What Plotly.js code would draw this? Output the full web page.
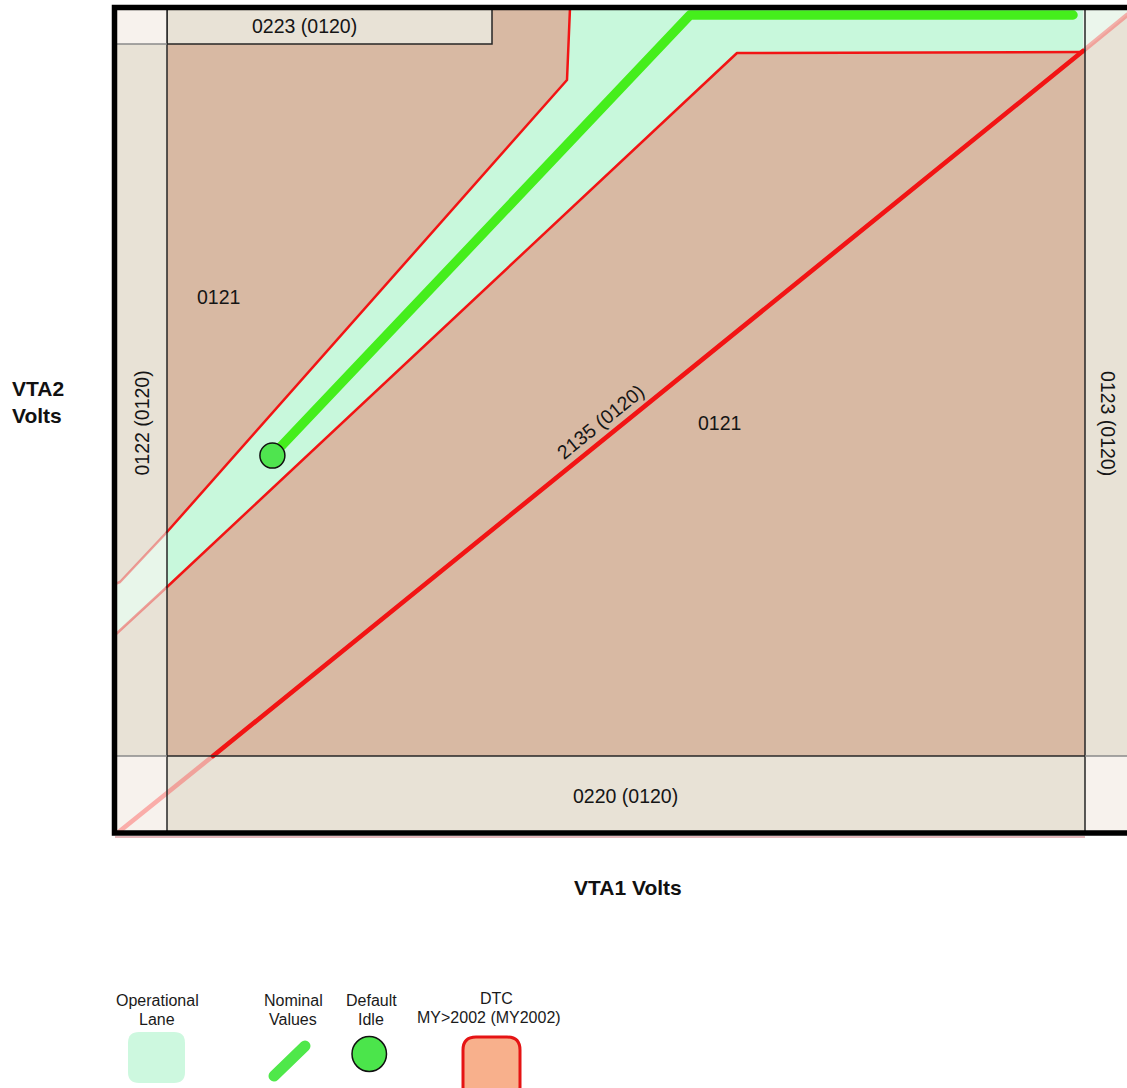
<!DOCTYPE html>
<html><head><meta charset="utf-8">
<script src="https://cdn.plot.ly/plotly-3.0.1.min.js"></script>
<style>html,body{margin:0;padding:0;background:#fff;overflow:hidden}</style>
</head><body><div id="chart" style="width:1127px;height:1088px"></div>
<script>
// ---------------- data (volts) ----------------
const axisRangeX = [0, 5.06];
const axisRangeY = [0, 4.125];
const stripLeftX = 0.26;      // 0122 region boundary
const stripRightX = 4.85;     // 0123 region boundary
const stripBottomY = 0.385;   // 0220 region boundary
const stripTopY = 3.945;      // 0223 region boundary
const topStripEndX = 1.885;   // end of 0223 region

const laneUpperX = [0.00, 0.025, 0.26, 2.26, 2.275];
const laneUpperY = [1.245, 1.255, 1.505, 3.765, 4.125];
const laneLowerX = [0.00, 0.26, 3.11, 4.84];
const laneLowerY = [0.99, 1.23, 3.90, 3.905];
const dtc2135X = [0.00, 0.49, 4.84, 5.06];
const dtc2135Y = [-0.01, 0.385, 3.91, 4.09];
const nominalX = [0.787, 2.875, 4.79];
const nominalY = [1.887, 4.09, 4.09];
const idleX = [0.787];
const idleY = [1.887];

const regionLabels = ['0223 (0120)', '0121', '0121', '2135 (0120)', '0122 (0120)', '0123 (0120)', '0220 (0120)'];
const regionLabelX = [0.945, 0.515, 3.02, 2.425, 0.1325, 4.965, 2.55];
const regionLabelY = [4.035, 2.68, 2.05, 2.055, 2.05, 2.05, 0.185];

const xTitle = 'VTA1 Volts';
const yTitle = ['VTA2', 'Volts'];
const legendTitles = [['Operational', 'Lane'], ['Nominal', 'Values'], ['Default', 'Idle'], ['DTC', 'MY>2002 (MY2002)']];

// ---------------- helpers ----------------
const W = 1127, H = 1088;
const PX = v => v / W;
const PY = v => 1 - v / H;
const FONT = 'Liberation Sans, Arial, Helvetica, sans-serif';
const ymax = axisRangeY[1], xmax = axisRangeX[1];

function roundRectPath(x0, y0, x1, y1, r) {
  const p = (x, y) => PX(x) + ',' + PY(y);
  return 'M' + p(x0 + r, y0) + ' L' + p(x1 - r, y0) + ' Q' + p(x1, y0) + ' ' + p(x1, y0 + r) +
    ' L' + p(x1, y1 - r) + ' Q' + p(x1, y1) + ' ' + p(x1 - r, y1) +
    ' L' + p(x0 + r, y1) + ' Q' + p(x0, y1) + ' ' + p(x0, y1 - r) +
    ' L' + p(x0, y0 + r) + ' Q' + p(x0, y0) + ' ' + p(x0 + r, y0) + ' Z';
}

const fillTrace = (x, y, color) => ({x, y, type: 'scatter', mode: 'lines', fill: 'toself', fillcolor: color,
  line: {width: 0, color: color}, hoverinfo: 'skip', showlegend: false});
const lineTrace = (x, y, color, width) => ({x, y, type: 'scatter', mode: 'lines',
  line: {width: width, color: color}, hoverinfo: 'skip', showlegend: false});

// lane polygons
const laneMainX = laneUpperX.slice(2).concat([stripRightX, stripRightX], laneLowerX.slice(1).reverse());
const laneMainY = laneUpperY.slice(2).concat([ymax, laneLowerY[laneLowerY.length - 1]], laneLowerY.slice(1).reverse());
const laneLeftX = laneUpperX.slice(0, 3).concat(laneLowerX.slice(0, 2).reverse());
const laneLeftY = laneUpperY.slice(0, 3).concat(laneLowerY.slice(0, 2).reverse());
const laneRightX = dtc2135X.slice(2).concat([xmax, dtc2135X[2]]);
const laneRightY = dtc2135Y.slice(2).concat([ymax, ymax]);

const PINK = 'rgba(255,50,50,0.36)';
const RED = '#f21414';

const traces = [
  fillTrace(laneMainX, laneMainY, '#c8f8dc'),
  fillTrace(laneLeftX, laneLeftY, '#e8f6ea'),
  fillTrace(laneRightX, laneRightY, '#ebf6ec'),
  lineTrace(dtc2135X, dtc2135Y, PINK, 4.5),
  lineTrace(laneUpperX.slice(0, 3), laneUpperY.slice(0, 3), 'rgba(240,50,50,0.45)', 2.5),
  lineTrace(laneLowerX.slice(0, 2), laneLowerY.slice(0, 2), 'rgba(240,50,50,0.45)', 2.5),
  lineTrace(laneUpperX.slice(2), laneUpperY.slice(2), RED, 2.5),
  lineTrace(laneLowerX.slice(1), laneLowerY.slice(1), RED, 2.5),
  lineTrace(dtc2135X.slice(1, 3), dtc2135Y.slice(1, 3), RED, 4.5),
  lineTrace(nominalX, nominalY, '#45ee1c', 9.5),
  {x: idleX, y: idleY, type: 'scatter', mode: 'markers', hoverinfo: 'skip', showlegend: false,
   marker: {size: 25, color: '#4fe44f', line: {color: '#111', width: 1.5}}}
];

const GRID = '#262626';
const shapes = [
  {type: 'rect', xref: 'x', yref: 'y', x0: stripLeftX, x1: stripRightX, y0: stripBottomY, y1: ymax,
   fillcolor: '#d8b9a3', line: {width: 0}, layer: 'below'},
  {type: 'rect', xref: 'x', yref: 'y', x0: stripLeftX, x1: topStripEndX, y0: stripTopY, y1: ymax + 0.05,
   fillcolor: '#e8e2d6', line: {width: 1.5, color: GRID}, layer: 'below'},
  {type: 'rect', xref: 'x', yref: 'y', x0: 0, x1: stripLeftX, y0: stripTopY, y1: ymax,
   fillcolor: '#f7f2ed', line: {width: 0}, layer: 'below'},
  {type: 'rect', xref: 'x', yref: 'y', x0: 0, x1: stripLeftX, y0: 0, y1: stripBottomY,
   fillcolor: '#f7f2ed', line: {width: 0}, layer: 'below'},
  {type: 'rect', xref: 'x', yref: 'y', x0: stripRightX, x1: xmax, y0: 0, y1: stripBottomY,
   fillcolor: '#f7f2ed', line: {width: 0}, layer: 'below'},
  {type: 'line', xref: 'x', yref: 'y', x0: stripLeftX, x1: stripLeftX, y0: 0, y1: ymax, line: {color: GRID, width: 1.5}},
  {type: 'line', xref: 'x', yref: 'y', x0: stripRightX, x1: stripRightX, y0: 0, y1: ymax, line: {color: GRID, width: 1.5}},
  {type: 'line', xref: 'x', yref: 'y', x0: stripLeftX, x1: stripRightX, y0: stripBottomY, y1: stripBottomY, line: {color: GRID, width: 1.5}},
  {type: 'line', xref: 'x', yref: 'y', x0: 0, x1: stripLeftX, y0: stripBottomY, y1: stripBottomY, line: {color: '#8a8a8a', width: 1.3}},
  {type: 'line', xref: 'x', yref: 'y', x0: stripRightX, x1: xmax, y0: stripBottomY, y1: stripBottomY, line: {color: '#8a8a8a', width: 1.3}},
  {type: 'line', xref: 'x', yref: 'y', x0: 0, x1: stripLeftX, y0: stripTopY, y1: stripTopY, line: {color: '#8a8a8a', width: 1.3}},
  {type: 'line', xref: 'paper', yref: 'paper', x0: PX(115), x1: PX(1085), y0: PY(837), y1: PY(837), line: {color: 'rgba(170,20,30,0.6)', width: 1.2}},
  {type: 'rect', xref: 'paper', yref: 'paper', x0: PX(114.5), x1: 1.02, y0: PY(833), y1: PY(7.5),
   line: {color: '#000', width: 5.5}, fillcolor: 'rgba(0,0,0,0)'},
  {type: 'path', xref: 'paper', yref: 'paper', path: roundRectPath(128, 1032, 185, 1083, 11),
   fillcolor: '#cdf8df', line: {width: 0}},
  {type: 'line', xref: 'paper', yref: 'paper', x0: PX(274), y0: PY(1076), x1: PX(305), y1: PY(1046),
   line: {color: '#4fe84a', width: 11}},
  {type: 'circle', xref: 'paper', yref: 'paper', x0: PX(352), x1: PX(386.5), y0: PY(1036.5), y1: PY(1071.5),
   fillcolor: '#4be54b', line: {color: '#111', width: 1.5}},
  {type: 'path', xref: 'paper', yref: 'paper', path: roundRectPath(463, 1037, 520, 1100, 13),
   fillcolor: '#f8b08c', line: {color: '#e51414', width: 3}}
];

const angles = [0, 0, 0, -39, -90, 90, 0];
const annotations = regionLabels.map((t, i) => ({
  text: t, x: regionLabelX[i], y: regionLabelY[i], xref: 'x', yref: 'y', showarrow: false,
  xanchor: 'center', yanchor: 'middle',
  textangle: angles[i], font: {family: FONT, size: 19.5, color: '#151515'}
}));
annotations.push({text: '<b>' + xTitle + '</b>', xref: 'paper', yref: 'paper', x: PX(628), y: PY(887),
  xanchor: 'center', yanchor: 'middle', showarrow: false, font: {family: FONT, size: 21, color: '#111'}});
annotations.push({text: '<b>' + yTitle.join('<br>') + '</b>', xref: 'paper', yref: 'paper', x: PX(10), y: PY(402),
  xanchor: 'left', yanchor: 'middle', align: 'left', showarrow: false, font: {family: FONT, size: 21, color: '#111'}});
const legendX = [[157.5, 157.5], [293, 293], [371, 371], [496, 489]];
const legendY = [[1000, 1019], [1000, 1019], [1000, 1019], [998, 1017]];
legendTitles.forEach((lines, i) => lines.forEach((t, j) => {
  annotations.push({text: t, xref: 'paper', yref: 'paper', x: PX(legendX[i][j]), y: PY(legendY[i][j]),
    xanchor: 'center', yanchor: 'middle',
    showarrow: false, font: {family: FONT, size: 16, color: '#1a1a1a'}});
}));

const layout = {
  width: W, height: H, autosize: false,
  margin: {l: 0, r: 0, t: 0, b: 0},
  paper_bgcolor: '#ffffff', plot_bgcolor: '#e8e2d6',
  showlegend: false,
  xaxis: {domain: [115 / W, 1], range: axisRangeX, visible: false, fixedrange: true},
  yaxis: {domain: [PY(833), PY(8)], range: axisRangeY, visible: false, fixedrange: true},
  shapes: shapes, annotations: annotations
};

Plotly.newPlot('chart', traces, layout, {staticPlot: true, displayModeBar: false}).then(() => {
  document.querySelectorAll('.scatterlayer .js-line').forEach(p => {
    p.style.strokeLinecap = 'round'; p.style.strokeLinejoin = 'round';
  });
  document.querySelectorAll('.shapelayer path').forEach(p => {
    const s = p.style.stroke || '';
    if (s.indexOf('79, 232, 74') >= 0) p.style.strokeLinecap = 'round';
  });
});
</script></body></html>
